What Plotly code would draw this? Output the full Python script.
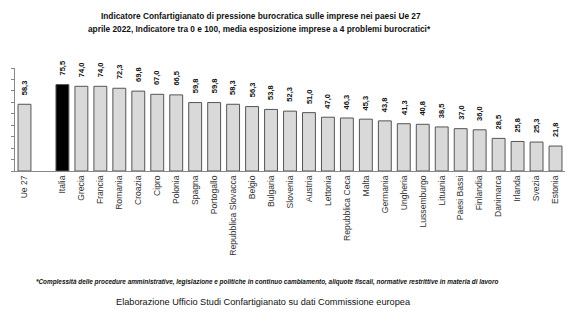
import plotly.graph_objects as go

categories = ["Ue 27", " ", "Italia", "Grecia", "Francia", "Romania", "Croazia", "Cipro",
              "Polonia", "Spagna", "Portogallo", "Repubblica Slovacca", "Belgio", "Bulgaria",
              "Slovenia", "Austria", "Lettonia", "Repubblica Ceca", "Malta", "Germania",
              "Ungheria", "Lussemburgo", "Lituania", "Paesi Bassi", "Finlandia", "Danimarca",
              "Irlanda", "Svezia", "Estonia"]
values = [58.3, None, 75.5, 74.0, 74.0, 72.3, 69.8, 67.0, 66.5, 59.8, 59.8, 58.3, 56.3, 53.8,
          52.3, 51.0, 47.0, 46.3, 45.3, 43.8, 41.3, 40.8, 38.5, 37.0, 36.0, 28.5, 25.8, 25.3, 21.8]
highlight = "Italia"

FONT = "Liberation Sans Narrow, Arial Narrow, Liberation Sans, Arial, sans-serif"

colors = ["#000000" if c == highlight else "#d9d9d9" for c in categories]

fig = go.Figure()
fig.add_trace(go.Bar(
    x=categories, y=values,
    marker=dict(color=colors, line=dict(color="#555555", width=1)),
    width=0.68,
    hoverinfo="skip",
))

for c, v in zip(categories, values):
    if v is None:
        continue
    fig.add_annotation(
        x=c, y=v, text="<b>" + f"{v:.1f}".replace(".", ",") + "</b>", textangle=-90,
        showarrow=False, yanchor="bottom", xanchor="center", yshift=7,
        font=dict(family=FONT, size=7.5, color="#111111"),
    )

title_lines = [
    "Indicatore Confartigianato di pressione burocratica sulle imprese nei paesi Ue 27",
    "aprile 2022, Indicatore tra 0 e 100, media esposizione imprese a 4 problemi burocratici*",
]
for line, shift, xc in zip(title_lines, [52, 39], [0.448, 0.444]):
    fig.add_annotation(
        xref="paper", yref="paper", x=xc, xanchor="center", y=1.0, yanchor="middle",
        yshift=shift, text="<b>" + line + "</b>",
        showarrow=False, font=dict(family=FONT, size=8.3, color="#111111"),
    )
fig.add_annotation(
    xref="paper", yref="paper", x=0.458, xanchor="center", y=0, yanchor="middle",
    yshift=-111,
    text="<b><i>*Complessità delle procedure amministrative, legislazione e politiche in continuo cambiamento, aliquote fiscali, normative restrittive in materia di lavoro</i></b>",
    showarrow=False, font=dict(family=FONT, size=6.4, color="#111111"),
)
fig.add_annotation(
    xref="paper", yref="paper", x=0.451, xanchor="center", y=0, yanchor="middle",
    yshift=-131,
    text="Elaborazione Ufficio Studi Confartigianato su dati Commissione europea",
    showarrow=False, font=dict(family=FONT, size=9.2, color="#111111"),
)

fig.update_layout(
    width=580, height=326,
    margin=dict(l=13, r=15, t=68, b=155),
    paper_bgcolor="white", plot_bgcolor="white",
    showlegend=False, bargap=0.32,
    xaxis=dict(
        type="category", categoryorder="array", categoryarray=categories,
        tickangle=-90, tickfont=dict(family=FONT, size=8.6, color="#333333"),
        showline=True, linecolor="#888888", linewidth=1,
        ticks="", showgrid=False, zeroline=False,
    ),
    yaxis=dict(
        range=[0, 90], dtick=10, showticklabels=False,
        ticks="outside", ticklen=3, tickcolor="#888888",
        showline=True, linecolor="#888888", linewidth=1,
        showgrid=False, zeroline=False,
    ),
)

fig.write_html("out.html")
